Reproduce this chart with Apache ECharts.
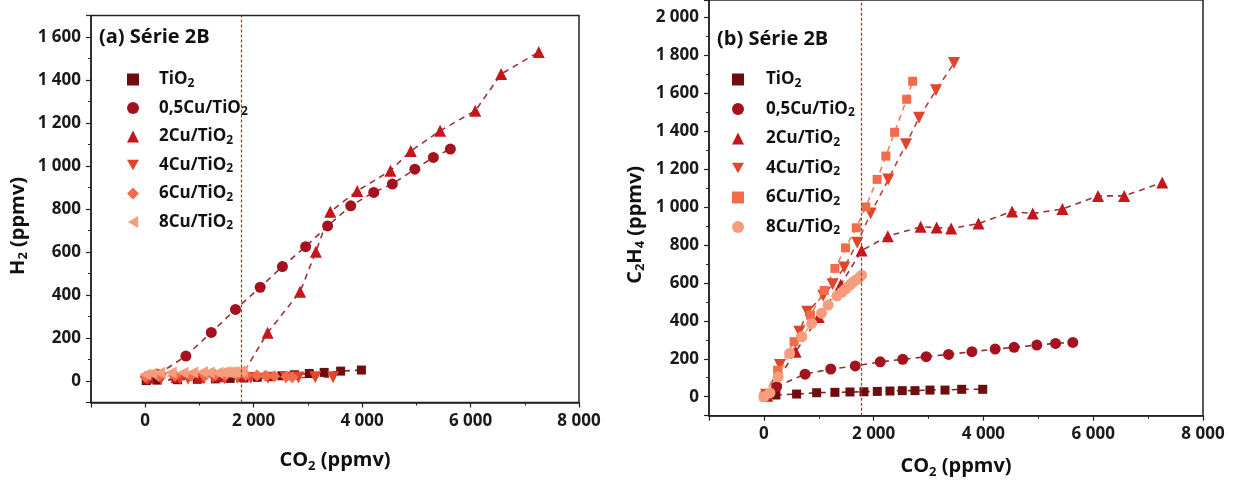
<!DOCTYPE html>
<html><head><meta charset="utf-8">
<script src="https://cdn.jsdelivr.net/npm/echarts@6/dist/echarts.min.js"></script>
<style>html,body{margin:0;padding:0;background:#fff}#c{width:1235px;height:484px}</style>
</head><body><div id="c"></div>
<script>
// ---------- data ----------
const samples = ['TiO2', '0,5Cu/TiO2', '2Cu/TiO2', '4Cu/TiO2', '6Cu/TiO2', '8Cu/TiO2'];
const refCO2 = 1780; // vertical dotted reference line (ppmv CO2)

// CO2 (ppmv), shared by both panels
const co2_TiO2 = [18, 219, 596, 961, 1294, 1568, 1823, 2066, 2297, 2521, 2753, 3026, 3300, 3604, 3987];
const co2_05Cu = [231, 750, 1218, 1665, 2120, 2530, 2958, 3364, 3790, 4214, 4558, 4972, 5314, 5628];
const co2_2Cu  = [60, 578, 1000, 1400, 1780, 2258, 2856, 3147, 3412, 3910, 4522, 4898, 5439, 6087, 6564, 7258];
const co2_4Cu  = [40, 292, 644, 790, 1081, 1252, 1464, 1701, 1945, 2266, 2589, 2826, 3136, 3464];
const co2_6Cu  = [0, 250, 550, 850, 1100, 1294, 1486, 1683, 1857, 2063, 2222, 2382, 2601, 2711];
const co2_8Cu  = [0, 110, 260, 470, 690, 870, 1050, 1170, 1330, 1420, 1480, 1530, 1580, 1630, 1680, 1730, 1780];

// (a) H2 (ppmv)
const h2_TiO2 = [2, 4, 6, 8, 10, 12, 14, 17, 20, 24, 29, 35, 40, 46, 51];
const h2_05Cu = [30, 116, 226, 333, 436, 532, 625, 721, 815, 877, 916, 985, 1040, 1079];
const h2_2Cu  = [15, 18, 20, 22, 25, 225, 415, 601, 787, 884, 978, 1070, 1164, 1257, 1428, 1530];
const h2_4Cu  = [8, 10, 12, 10, 12, 14, 13, 15, 14, 15, 16, 16, 17, 18];
const h2_6Cu  = [20, 22, 24, 25, 26, 28, 28, 30, 28, 26, 24, 22, 20, 18];
const h2_8Cu  = [30, 35, 38, 40, 38, 40, 42, 40, 38, 40, 42, 40, 41, 42, 40, 43, 44];

// (b) C2H4 (ppmv)
const c2h4_TiO2 = [4, 9, 14, 21, 23, 25, 26, 28, 30, 32, 32, 35, 35, 39, 39];
const c2h4_05Cu = [53, 119, 146, 162, 184, 197, 211, 223, 237, 251, 260, 272, 281, 286];
const c2h4_2Cu  = [5, 237, 420, 590, 770, 846, 895, 891, 886, 912, 976, 965, 989, 1058, 1058, 1128];
const c2h4_4Cu  = [10, 167, 342, 447, 532, 592, 681, 811, 965, 1144, 1330, 1470, 1614, 1758];
const c2h4_6Cu  = [0, 140, 290, 430, 560, 676, 784, 890, 1000, 1145, 1268, 1393, 1567, 1662];
const c2h4_8Cu  = [0, 20, 105, 228, 316, 386, 440, 483, 530, 550, 565, 580, 592, 605, 615, 625, 640];

// axis ranges
const xRange = [-1000, 8000];
const yRangeA = [-100, 1700];
const yRangeB = [-100, 2090];

// ---------- styles ----------
const FONT = 'Open Sans';
const colors = ['#6e0c10', '#a3121e', '#c4161c', '#e2452c', '#f26b4a', '#f79c7c'];
const fitColors = ['#7d2226', '#933036', '#9b3337', '#b8453a', '#f07f5e', '#f4a282'];

const co2 = [co2_TiO2, co2_05Cu, co2_2Cu, co2_4Cu, co2_6Cu, co2_8Cu];
const h2 = [h2_TiO2, h2_05Cu, h2_2Cu, h2_4Cu, h2_6Cu, h2_8Cu];
const c2h4 = [c2h4_TiO2, c2h4_05Cu, c2h4_2Cu, c2h4_4Cu, c2h4_6Cu, c2h4_8Cu];

const TRI_DOWN = 'path://M0,0L12,0L6,10.4Z';
const TRI_LEFT = 'path://M10.4,0L10.4,12L0,6Z';
const symA = [['rect', 9], ['circle', 11], ['triangle', 12], [TRI_DOWN, 12], ['diamond', 12], [TRI_LEFT, 12]];
const symB = [['rect', 9], ['circle', 11], ['triangle', 12], [TRI_DOWN, 12], ['rect', 9], ['circle', 11]];

function zip(xs, ys) { return xs.map((x, i) => [x, ys[i]]); }
function fmtNum(v) { return String(Math.round(v)).replace(/\B(?=(\d{3})+(?!\d))/g, ' '); }

const nameRich = {
  t: { fontSize: 20, fontWeight: 'bold', fontFamily: FONT, color: '#111', lineHeight: 24, verticalAlign: 'middle' },
  s: { fontSize: 13, fontWeight: 'bold', fontFamily: FONT, color: '#111', lineHeight: 13, verticalAlign: 'bottom' }
};

function legendRich(pad) {
  return {
    p: { fontSize: 17, fontWeight: 'bold', fontFamily: FONT, color: '#111', lineHeight: 20, verticalAlign: 'middle', padding: [0, 0, 0, pad] },
    s: { fontSize: 12, fontWeight: 'bold', fontFamily: FONT, color: '#111', lineHeight: 10, verticalAlign: 'bottom' }
  };
}

function legendFmt(name) {
  const base = name.split('|')[1];
  return '{p|' + base.slice(0, -1) + '}{s|2}';
}

const axisCommon = {
  axisLine: { show: true, onZero: false, lineStyle: { color: '#222', width: 1.5 } },
  axisTick: { show: true, length: 5, lineStyle: { color: '#222', width: 1.2 } },
  minorTick: { show: true, splitNumber: 2, length: 3, lineStyle: { color: '#222', width: 1 } },
  splitLine: { show: false },
  minorSplitLine: { show: false }
};

const tickLabel = { color: '#1a1a1a', fontSize: 17, fontWeight: 'bold', fontFamily: FONT, margin: 10 };

function xAxis(grid, gap) {
  return Object.assign({}, axisCommon, {
    type: 'value', gridIndex: grid, min: xRange[0], max: xRange[1], splitNumber: 5,
    name: '{t|CO}{s|2}{t| (ppmv)}', nameLocation: 'middle', nameGap: gap,
    nameTextStyle: { rich: nameRich },
    axisLabel: Object.assign({ showMinLabel: false, formatter: fmtNum }, tickLabel)
  });
}
function yAxis(grid, range, split, name, gap) {
  return Object.assign({}, axisCommon, {
    type: 'value', gridIndex: grid, min: range[0], max: range[1], splitNumber: split,
    name: name, nameLocation: 'middle', nameGap: gap,
    nameTextStyle: { rich: nameRich, padding: [0, 34, 0, 0] },
    axisLabel: Object.assign({ showMinLabel: false, showMaxLabel: false, formatter: fmtNum }, tickLabel)
  });
}

const series = [];
function addPanel(tag, idx, yData, syms) {
  samples.forEach((s, i) => {
    series.push({
      type: 'line', name: 'fit' + tag + i, xAxisIndex: idx, yAxisIndex: idx,
      data: zip(co2[i], yData[i]), showSymbol: false, symbol: 'none', z: 2, silent: true,
      lineStyle: { color: fitColors[i], width: 1.6, type: [6, 5] }
    });
  });
  samples.forEach((s, i) => {
    const sc = {
      type: 'scatter', name: tag + '|' + s, xAxisIndex: idx, yAxisIndex: idx,
      data: zip(co2[i], yData[i]), symbol: syms[i][0], symbolSize: syms[i][1],
      itemStyle: { color: colors[i], opacity: 1 }, z: 3
    };
    if (i === 0) {
      sc.markLine = {
        silent: true, symbol: ['none', 'none'], label: { show: false }, z: 4,
        lineStyle: { color: '#d0202a', type: [3, 2], width: 1.2, opacity: 1 },
        emphasis: { disabled: true },
        data: [{ xAxis: refCO2, lineStyle: { color: '#d0202a', type: [3, 2], width: 1.2 } }]
      };
    }
    series.push(sc);
  });
}
addPanel('a', 0, h2, symA);
addPanel('b', 1, c2h4, symB);

const titleStyle = { fontSize: 20, fontWeight: 'bold', fontFamily: FONT, color: '#111' };

const option = {
  animation: false,
  backgroundColor: '#fff',
  title: [
    { text: '(a) Série 2B', left: 94, top: 22, textStyle: titleStyle },
    { text: '(b) Série 2B', left: 712, top: 24, textStyle: titleStyle }
  ],
  legend: [
    { data: samples.map(s => 'a|' + s), orient: 'vertical', left: 122, top: 66, itemWidth: 12, itemHeight: 12, itemGap: 10,
      formatter: legendFmt, textStyle: { rich: legendRich(15) }, selectedMode: false },
    { data: samples.map(s => 'b|' + s), orient: 'vertical', left: 727, top: 66, itemWidth: 12, itemHeight: 12, itemGap: 11,
      formatter: legendFmt, textStyle: { rich: legendRich(17) }, selectedMode: false }
  ],
  grid: [
    { left: 91, top: 15.5, width: 488, height: 387, show: true, borderColor: '#222', borderWidth: 1.5, containLabel: false },
    { left: 709, top: 0, width: 494, height: 415.7, show: true, borderColor: '#222', borderWidth: 1.5, containLabel: false }
  ],
  xAxis: [xAxis(0, 46), xAxis(1, 39)],
  yAxis: [
    yAxis(0, yRangeA, 9, '{t|H}{s|2}{t| (ppmv)}', 61),
    yAxis(1, yRangeB, 11, '{t|C}{s|2}{t|H}{s|4}{t| (ppmv)}', 62)
  ],
  series: series
};

const chart = echarts.init(document.getElementById('c'), null, { renderer: 'canvas' });
chart.setOption(option);
</script>
</body></html>
